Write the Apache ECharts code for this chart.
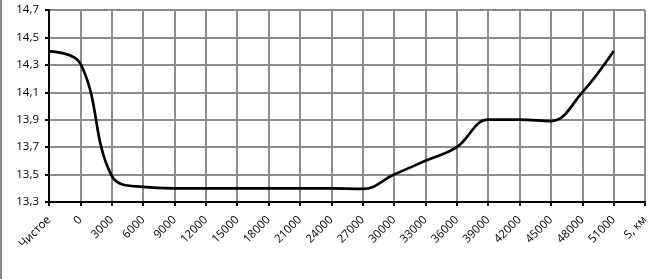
<!DOCTYPE html>
<html>
<head>
<meta charset="utf-8">
<script src="https://cdn.jsdelivr.net/npm/echarts@6/dist/echarts.min.js"></script>
<style>html,body{margin:0;padding:0;background:#fff;}#c{width:671px;height:279px;}</style>
</head>
<body>
<div id="c"></div>
<script>
const categories = ['Чистое','0','3000','6000','9000','12000','15000','18000','21000','24000','27000','30000','33000','36000','39000','42000','45000','48000','51000','S, км'];
const values = [14.4,14.31,13.49,13.41,13.4,13.4,13.4,13.4,13.4,13.4,13.395,13.5,13.6,13.7,13.9,13.9,13.89,14.1,14.4,null];
const yTicks = {min:13.3, max:14.7, interval:0.2};

const chart = echarts.init(document.getElementById('c'), null, {renderer:'canvas'});
chart.setOption({
  animation:false,
  grid:{left:49, right:26, top:10, bottom:77, containLabel:false},
  xAxis:{
    type:'category', data:categories, boundaryGap:false,
    axisLine:{lineStyle:{color:'#000', width:2}},
    axisTick:{show:true, alignWithLabel:true, length:4, inside:false, lineStyle:{color:'#000', width:2}},
    axisLabel:{rotate:45, interval:0, margin:16, color:'#000', fontFamily:'Open Sans', fontSize:11.5},
    splitLine:{show:true, interval:0, lineStyle:{color:'#8c8c8c', width:2}}
  },
  yAxis:{
    type:'value', min:yTicks.min, max:yTicks.max, interval:yTicks.interval,
    axisLine:{show:true, lineStyle:{color:'#000', width:2}},
    axisTick:{show:true, length:4, lineStyle:{color:'#000', width:2}},
    axisLabel:{margin:10, color:'#000', fontFamily:'Open Sans', fontSize:11.5,
      formatter:v=>v.toFixed(1).replace('.',',')},
    splitLine:{show:true, lineStyle:{color:'#8c8c8c', width:2}}
  },
  series:[{
    type:'line', data:values, smooth:0.4, symbol:'none', connectNulls:false,
    lineStyle:{color:'#000', width:2.7}
  }],
  graphic:[{type:'line', shape:{x1:1,y1:0,x2:1,y2:279}, style:{stroke:'#888', lineWidth:2}}]
});
</script>
</body>
</html>
